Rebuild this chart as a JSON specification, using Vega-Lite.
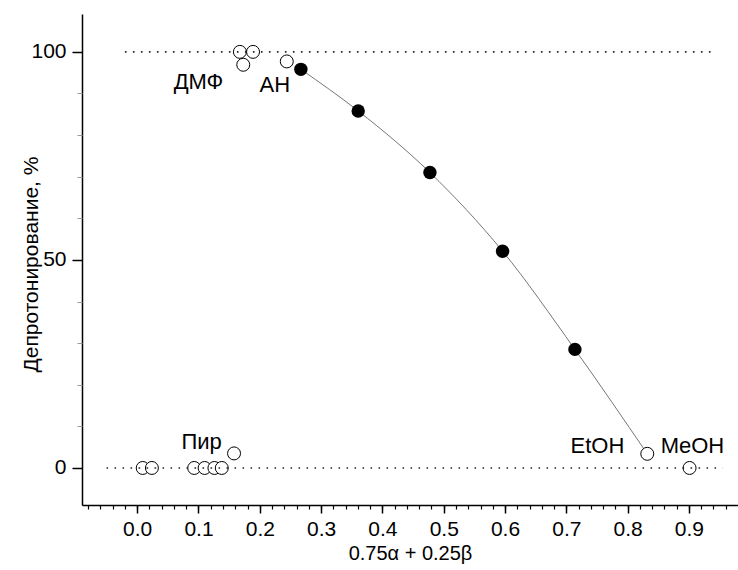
{
  "$schema": "https://vega.github.io/schema/vega-lite/v6.json",
  "width": 656,
  "height": 491,
  "autosize": {"type": "none"},
  "padding": {"left": 82, "top": 14, "right": 0, "bottom": 65},
  "background": "white",
  "config": {
    "view": {"stroke": null},
    "font": "Liberation Sans",
    "axis": {"grid": false, "labelFont": "Liberation Sans", "titleFont": "Liberation Sans", "labelColor": "black", "titleColor": "black", "titleFontWeight": "normal"}
  },
  "datasets": {
    "curve": [
      {"x": 0.267, "y": 95.8},
      {"x": 0.3605, "y": 85.8},
      {"x": 0.4775, "y": 71.0},
      {"x": 0.596, "y": 52.1},
      {"x": 0.714, "y": 28.5},
      {"x": 0.832, "y": 3.4}
    ],
    "filled": [
      {"x": 0.267, "y": 95.8},
      {"x": 0.3605, "y": 85.8},
      {"x": 0.4775, "y": 71.0},
      {"x": 0.596, "y": 52.1},
      {"x": 0.714, "y": 28.5}
    ],
    "open": [
      {"x": 0.1675, "y": 100},
      {"x": 0.189, "y": 100},
      {"x": 0.173, "y": 96.9},
      {"x": 0.244, "y": 97.7},
      {"x": 0.009, "y": 0},
      {"x": 0.024, "y": 0},
      {"x": 0.093, "y": 0},
      {"x": 0.11, "y": 0},
      {"x": 0.126, "y": 0},
      {"x": 0.138, "y": 0},
      {"x": 0.158, "y": 3.5},
      {"x": 0.832, "y": 3.4},
      {"x": 0.901, "y": 0}
    ],
    "refs": [
      {"y": 100, "x1": -0.02, "x2": 0.945},
      {"y": 0, "x1": -0.05, "x2": 0.955}
    ],
    "labels": [
      {"x": 0.1, "y": 92.8, "t": "ДМФ"},
      {"x": 0.2246, "y": 92.1, "t": "АН"},
      {"x": 0.105, "y": 6.3, "t": "Пир"},
      {"x": 0.7507, "y": 5.3, "t": "EtOH"},
      {"x": 0.9057, "y": 5.3, "t": "MeOH"}
    ]
  },
  "resolve": {"axis": {"x": "independent", "y": "independent"}},
  "layer": [
    {
      "data": {"name": "curve"},
      "mark": {"type": "line", "interpolate": "monotone", "color": "#777777", "strokeWidth": 1},
      "encoding": {
        "x": {"field": "x", "type": "quantitative", "scale": {"domain": [-0.09, 0.98], "nice": false, "zero": false},
          "axis": {"orient": "bottom", "values": [0, 0.1, 0.2, 0.3, 0.4, 0.5, 0.6, 0.7, 0.8, 0.9], "format": ".1f", "tickSize": 8, "tickWidth": 1.5, "tickColor": "black", "domainColor": "black", "domainWidth": 1.5, "labelFontSize": 21, "labelPadding": 5, "title": "0.75α + 0.25β", "titleFontSize": 20, "titleBaseline": "middle", "titleY": 48}},
        "y": {"field": "y", "type": "quantitative", "scale": {"domain": [-8.9, 109.1], "nice": false, "zero": false},
          "axis": {"orient": "left", "values": [0, 50, 100], "tickSize": 10, "tickWidth": 1.5, "tickColor": "black", "domainColor": "black", "domainWidth": 1.5, "labelFontSize": 21, "labelPadding": 6, "title": "Депротонирование, %", "titleFontSize": 21, "titleBaseline": "middle", "titleX": -51, "titleY": 250}}
      }
    },
    {
      "data": {"name": "open"},
      "mark": {"type": "point", "shape": "circle", "filled": true, "fill": "white", "stroke": "black", "strokeWidth": 1, "size": 168, "opacity": 1},
      "encoding": {
        "x": {"field": "x", "type": "quantitative",
          "axis": {"orient": "bottom", "values": [-0.08, -0.06, -0.04, -0.02, 0, 0.02, 0.04, 0.06, 0.08, 0.1, 0.12, 0.14, 0.16, 0.18, 0.2, 0.22, 0.24, 0.26, 0.28, 0.3, 0.32, 0.34, 0.36, 0.38, 0.4, 0.42, 0.44, 0.46, 0.48, 0.5, 0.52, 0.54, 0.56, 0.58, 0.6, 0.62, 0.64, 0.66, 0.68, 0.7, 0.72, 0.74, 0.76, 0.78, 0.8, 0.82, 0.84, 0.86, 0.88, 0.9, 0.92, 0.94, 0.96], "tickSize": 4, "tickWidth": 1.2, "tickColor": "black", "labels": false, "domain": false, "title": null}},
        "y": {"field": "y", "type": "quantitative",
          "axis": {"orient": "left", "values": [10, 20, 30, 40, 60, 70, 80, 90], "tickSize": 5, "tickWidth": 1, "tickColor": "#999999", "labels": false, "domain": false, "title": null}}
      }
    },
    {
      "data": {"name": "refs"},
      "mark": {"type": "rule", "color": "#222222", "strokeWidth": 1.6, "strokeDash": [1.6, 6.4]},
      "encoding": {
        "x": {"field": "x1", "type": "quantitative", "axis": null},
        "x2": {"field": "x2"},
        "y": {"field": "y", "type": "quantitative", "axis": null}
      }
    },
    {
      "data": {"name": "filled"},
      "mark": {"type": "point", "shape": "circle", "filled": true, "color": "black", "size": 180, "opacity": 1},
      "encoding": {
        "x": {"field": "x", "type": "quantitative", "axis": null},
        "y": {"field": "y", "type": "quantitative", "axis": null}
      }
    },
    {
      "data": {"name": "labels"},
      "mark": {"type": "text", "font": "Liberation Sans", "fontSize": 22, "color": "black", "align": "center", "baseline": "middle"},
      "encoding": {
        "x": {"field": "x", "type": "quantitative", "axis": null},
        "y": {"field": "y", "type": "quantitative", "axis": null},
        "text": {"field": "t"}
      }
    }
  ]
}
